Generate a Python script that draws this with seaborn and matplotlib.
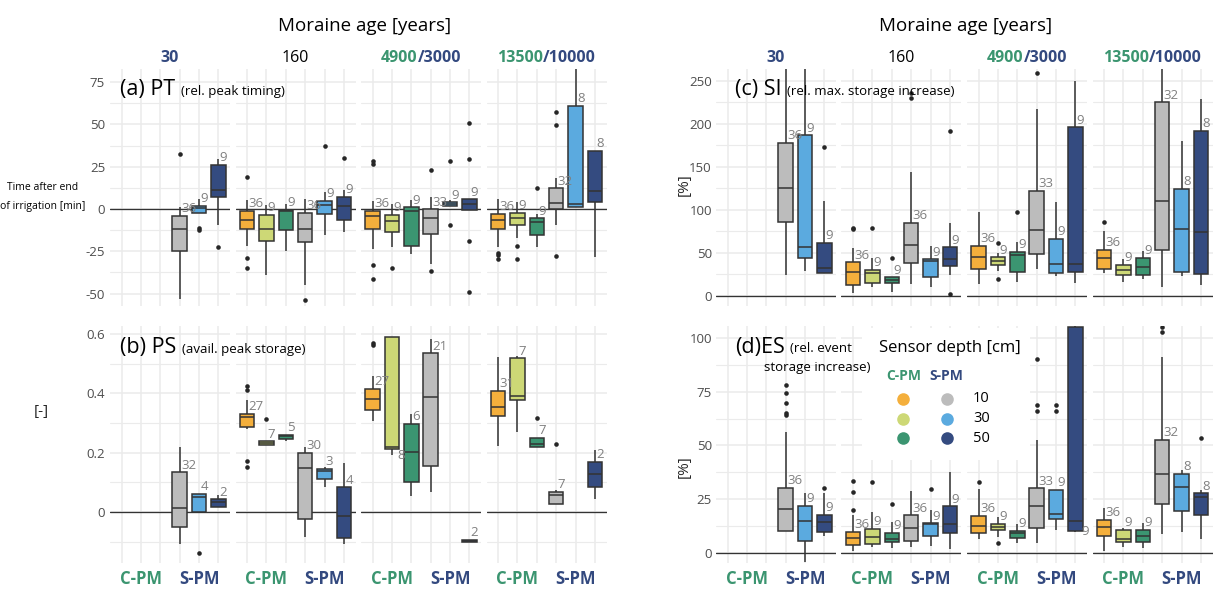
import numpy as np
import pandas as pd
import matplotlib
matplotlib.use("Agg")
import matplotlib.pyplot as plt
from matplotlib.ticker import MultipleLocator, FuncFormatter
from matplotlib.offsetbox import TextArea, HPacker, AnnotationBbox
import seaborn as sns

W, H = 1215, 589

AGES = ["30", "160", "4900/3000", "13500/10000"]
GROUPS = ["C10", "C30", "C50", "S10", "S30", "S50"]
DEPTHS = ["10", "30", "50"]
PALETTE = {"C10": "#f4af3c", "C30": "#cdd876", "C50": "#3b9571",
           "S10": "#bcbcbc", "S30": "#5baadf", "S50": "#344b80"}
GREEN = "#3b9570"
BLUE = "#33497f"

# (a) PT - relative peak timing [min]
# age, group, lower whisker, Q1, median, Q3, upper whisker, n
PT_BOXES = [
    ("30", "S10", -53.0, -24.8, -11.6, -3.9, 1.4, 36),
    ("30", "S30", -2.6, -2.6, 0.3, 2.0, 5.7, 9),
    ("30", "S50", -9.2, 6.9, 11.0, 26.2, 29.3, 9),
    ("160", "C10", -22.0, -11.8, -6.7, -1.2, 5.3, 36),
    ("160", "C30", -39.0, -18.7, -11.6, -3.3, 2.4, 9),
    ("160", "C50", -24.6, -12.6, -1.2, -0.6, 3.0, 9),
    ("160", "S10", -45.0, -19.7, -11.6, -2.2, 5.7, 36),
    ("160", "S30", -15.4, -3.2, 2.2, 4.9, 10.0, 9),
    ("160", "S50", -13.4, -6.5, 2.0, 7.3, 11.0, 9),
    ("4900/3000", "C10", -23.4, -12.0, -3.9, -1.0, 4.7, 36),
    ("4900/3000", "C30", -22.6, -13.8, -7.3, -3.3, 3.0, 9),
    ("4900/3000", "C50", -26.8, -21.7, -1.2, 1.0, 5.3, 9),
    ("4900/3000", "S10", -32.5, -14.6, -5.5, -0.2, 7.3, 33),
    ("4900/3000", "S30", 1.5, 1.8, 2.9, 4.0, 5.3, 9),
    ("4900/3000", "S50", -0.6, -0.6, 2.9, 5.7, 5.7, 9),
    ("13500/10000", "C10", -22.6, -11.8, -6.7, -3.0, 5.7, 36),
    ("13500/10000", "C30", -17.0, -9.5, -5.5, -2.2, 4.3, 9),
    ("13500/10000", "C50", -22.6, -15.4, -7.7, -5.5, -3.0, 9),
    ("13500/10000", "S10", -9.2, -0.1, 3.3, 12.2, 18.1, 32),
    ("13500/10000", "S30", 1.0, 1.0, 2.9, 61.0, 95.0, 8),
    ("13500/10000", "S50", -28.6, 4.3, 10.4, 34.4, 34.4, 8),
]
PT_OUTLIERS = [
    ("30", "S10", 32.3), ("30", "S30", -11.4), ("30", "S30", -12.4), ("30", "S50", -22.6),
    ("160", "C10", 19.0), ("160", "C10", -29.0), ("160", "C10", -35.0),
    ("160", "S10", -54.0), ("160", "S30", 37.4), ("160", "S50", 30.3),
    ("4900/3000", "C10", 28.5), ("4900/3000", "C10", 26.6), ("4900/3000", "C10", -32.9),
    ("4900/3000", "C10", -41.2), ("4900/3000", "C30", -34.8),
    ("4900/3000", "S10", 23.2), ("4900/3000", "S10", -36.8),
    ("4900/3000", "S30", 28.4), ("4900/3000", "S30", -9.2),
    ("4900/3000", "S50", 50.8), ("4900/3000", "S50", 29.3), ("4900/3000", "S50", -18.7),
    ("4900/3000", "S50", -49.2),
    ("13500/10000", "C10", -25.8), ("13500/10000", "C10", -27.0), ("13500/10000", "C10", -29.7),
    ("13500/10000", "C30", -21.7), ("13500/10000", "C30", -29.7), ("13500/10000", "C50", 12.2),
    ("13500/10000", "S10", 57.1), ("13500/10000", "S10", 49.8), ("13500/10000", "S10", -27.8),
]

# (b) PS - available peak storage [-]
PS_BOXES = [
    ("30", "S10", -0.108, -0.049, 0.012, 0.134, 0.218, 32),
    ("30", "S30", -0.001, -0.001, 0.052, 0.061, 0.061, 4),
    ("30", "S50", 0.018, 0.018, 0.033, 0.043, 0.057, 2),
    ("160", "C10", 0.280, 0.287, 0.320, 0.330, 0.378, 27),
    ("160", "C30", 0.227, 0.227, 0.233, 0.238, 0.238, 7),
    ("160", "C50", 0.240, 0.245, 0.255, 0.260, 0.260, 5),
    ("160", "S10", -0.085, -0.022, 0.147, 0.199, 0.220, 30),
    ("160", "S30", 0.083, 0.111, 0.139, 0.145, 0.150, 3),
    ("160", "S50", -0.108, -0.087, -0.012, 0.083, 0.164, 4),
    ("4900/3000", "C10", 0.306, 0.344, 0.380, 0.415, 0.459, 27),
    ("4900/3000", "C30", 0.192, 0.211, 0.219, 0.589, 0.590, 8),
    ("4900/3000", "C50", 0.054, 0.102, 0.201, 0.297, 0.329, 6),
    ("4900/3000", "S10", 0.069, 0.156, 0.386, 0.535, 0.582, 21),
    ("4900/3000", "S50", -0.100, -0.100, -0.097, -0.095, -0.095, 2),
    ("13500/10000", "C10", 0.224, 0.325, 0.353, 0.409, 0.522, 31),
    ("13500/10000", "C30", 0.269, 0.378, 0.391, 0.518, 0.527, 7),
    ("13500/10000", "C50", 0.218, 0.218, 0.229, 0.251, 0.251, 7),
    ("13500/10000", "S10", 0.026, 0.026, 0.057, 0.067, 0.075, 7),
    ("13500/10000", "S50", 0.043, 0.083, 0.128, 0.169, 0.210, 2),
]
PS_OUTLIERS = [
    ("30", "S30", -0.139),
    ("160", "C10", 0.425), ("160", "C10", 0.410), ("160", "C10", 0.172), ("160", "C10", 0.153),
    ("160", "C30", 0.314),
    ("4900/3000", "C10", 0.571), ("4900/3000", "C10", 0.562),
    ("13500/10000", "C50", 0.316), ("13500/10000", "S10", 0.229),
]

# (c) SI - relative maximum storage increase [%]
SI_BOXES = [
    ("30", "S10", 24.0, 85.7, 125.6, 177.6, 300.0, 36),
    ("30", "S30", 29.0, 43.8, 56.3, 186.5, 300.0, 9),
    ("30", "S50", 26.0, 26.0, 32.6, 61.3, 109.8, 9),
    ("160", "C10", 2.7, 12.4, 27.9, 38.8, 55.0, 36),
    ("160", "C30", 10.5, 15.1, 26.0, 29.9, 43.5, 9),
    ("160", "C50", 4.7, 14.4, 18.3, 21.4, 21.4, 9),
    ("160", "S10", 13.6, 37.7, 58.6, 84.9, 144.0, 36),
    ("160", "S30", 9.7, 22.1, 40.7, 42.3, 57.8, 9),
    ("160", "S50", 24.0, 34.9, 42.3, 56.3, 84.2, 9),
    ("4900/3000", "C10", 13.6, 31.0, 45.4, 58.2, 97.0, 36),
    ("4900/3000", "C30", 28.7, 35.7, 40.3, 44.6, 50.0, 9),
    ("4900/3000", "C50", 15.6, 27.9, 47.3, 51.2, 62.0, 9),
    ("4900/3000", "S10", 31.0, 48.1, 76.4, 121.7, 217.0, 33),
    ("4900/3000", "S30", 22.9, 26.0, 36.5, 66.3, 108.6, 9),
    ("4900/3000", "S50", 15.1, 27.6, 37.2, 195.8, 250.0, 9),
    ("13500/10000", "C10", 26.0, 31.4, 44.2, 53.1, 74.9, 36),
    ("13500/10000", "C30", 15.6, 23.7, 29.9, 36.1, 42.7, 9),
    ("13500/10000", "C50", 19.4, 23.7, 33.0, 44.2, 52.0, 9),
    ("13500/10000", "S10", 10.5, 53.5, 110.5, 224.9, 300.0, 32),
    ("13500/10000", "S30", 22.9, 27.6, 77.2, 124.0, 179.9, 8),
    ("13500/10000", "S50", 12.1, 25.2, 74.4, 191.9, 228.4, 8),
]
SI_OUTLIERS = [
    ("30", "S50", 172.5),
    ("160", "C10", 79.0), ("160", "C10", 77.5), ("160", "C30", 79.0), ("160", "C50", 43.5),
    ("160", "S10", 229.5), ("160", "S10", 236.0), ("160", "S50", 191.9), ("160", "S50", 2.0),
    ("4900/3000", "C30", 60.9), ("4900/3000", "C30", 19.4), ("4900/3000", "C50", 97.0),
    ("4900/3000", "S10", 258.6),
    ("13500/10000", "C10", 86.0),
]

# (d) ES - relative event storage increase [%]
ES_BOXES = [
    ("30", "S10", 10.5, 10.5, 20.7, 30.4, 56.4, 36),
    ("30", "S30", -3.9, 5.6, 15.0, 22.1, 28.1, 9),
    ("30", "S50", 8.0, 9.7, 14.4, 17.8, 28.0, 9),
    ("160", "C10", 1.1, 3.9, 7.2, 10.0, 17.8, 36),
    ("160", "C30", 3.1, 4.2, 7.7, 11.4, 19.2, 9),
    ("160", "C50", 2.3, 5.2, 6.6, 9.6, 14.4, 9),
    ("160", "S10", 2.8, 5.6, 11.6, 17.6, 29.0, 36),
    ("160", "S30", 3.5, 8.0, 13.5, 13.9, 20.1, 9),
    ("160", "S50", 2.0, 9.3, 13.4, 21.8, 37.5, 9),
    ("4900/3000", "C10", 6.5, 9.3, 12.7, 17.4, 29.7, 36),
    ("4900/3000", "C30", 7.7, 10.8, 12.3, 13.6, 16.7, 9),
    ("4900/3000", "C50", 4.9, 7.2, 9.3, 10.5, 13.4, 9),
    ("4900/3000", "S10", 4.9, 11.6, 21.9, 30.1, 52.5, 33),
    ("4900/3000", "S30", 10.8, 15.9, 18.2, 29.3, 29.3, 9),
    ("4900/3000", "S50", 10.0, 10.3, 15.1, 105.0, 130.0, 9),
    ("13500/10000", "C10", 1.2, 8.0, 12.1, 15.4, 20.9, 36),
    ("13500/10000", "C30", 3.1, 5.1, 6.6, 10.8, 11.9, 9),
    ("13500/10000", "C50", 2.3, 5.4, 8.0, 10.8, 14.2, 9),
    ("13500/10000", "S10", 8.8, 22.7, 36.8, 52.5, 90.9, 32),
    ("13500/10000", "S30", 9.7, 19.6, 30.9, 36.9, 38.6, 8),
    ("13500/10000", "S50", 6.6, 17.8, 26.2, 27.8, 29.3, 8),
]
ES_OUTLIERS = [
    ("30", "S10", 78.0), ("30", "S10", 74.2), ("30", "S10", 69.5), ("30", "S10", 65.2),
    ("30", "S10", 64.1), ("30", "S50", 30.1),
    ("160", "C10", 33.7), ("160", "C10", 28.3), ("160", "C10", 20.1), ("160", "C30", 32.9),
    ("160", "C50", 22.9), ("160", "S30", 29.8),
    ("4900/3000", "C10", 32.9), ("4900/3000", "C30", 4.6),
    ("4900/3000", "S10", 90.2), ("4900/3000", "S10", 68.8), ("4900/3000", "S10", 66.0),
    ("4900/3000", "S30", 68.8), ("4900/3000", "S30", 66.0),
    ("13500/10000", "S10", 102.5), ("13500/10000", "S10", 104.8),
    ("13500/10000", "S50", 53.6),
]

# ---------------------------------------------------------------- styling
sns.set_theme(style="white")
plt.rcParams["font.family"] = ["Open Sans", "DejaVu Sans"]
plt.rcParams["axes.unicode_minus"] = False

GRID = "#ebebeb"
LINE = "#333333"
TICK = "#4d4d4d"

fig = plt.figure(figsize=(W / 100, H / 100), dpi=100)
fig.patch.set_facecolor("white")


def px_rect(x0, y0, w, h):
    return [x0 / W, 1 - (y0 + h) / H, w / W, h / H]


FACET_W, FACET_STEP = 120, 125.5
ROW_TOP = {0: 69, 1: 326}
ROW_H = 237
COL_LEFT = {0: 110, 1: 716}

PANELS = [
    dict(boxes=PT_BOXES, out=PT_OUTLIERS, col=0, row=0, ylim=(-57.3, 82.7), major=25, minor=12.5),
    dict(boxes=PS_BOXES, out=PS_OUTLIERS, col=0, row=1, ylim=(-0.172, 0.627), major=0.2, minor=0.1),
    dict(boxes=SI_BOXES, out=SI_OUTLIERS, col=1, row=0, ylim=(-12.0, 263.6), major=50, minor=25),
    dict(boxes=ES_BOXES, out=ES_OUTLIERS, col=1, row=1, ylim=(-4.5, 105.4), major=25, minor=12.5),
]

fmt = FuncFormatter(lambda v, p: f"{v:g}")

for panel in PANELS:
    lo_lim, hi_lim = panel["ylim"]
    span = hi_lim - lo_lim
    for i, age in enumerate(AGES):
        x0 = COL_LEFT[panel["col"]] + i * FACET_STEP
        ax = fig.add_axes(px_rect(x0, ROW_TOP[panel["row"]], FACET_W, ROW_H))
        ax.set_facecolor("white")

        rows = [b for b in panel["boxes"] if b[0] == age]
        long = pd.DataFrame(
            [(b[1], v) for b in rows for v in b[2:7]], columns=["grp", "val"]
        )
        ax.axhline(0, color=LINE, lw=0.95, zorder=1.5)
        sns.boxplot(
            data=long, x="grp", y="val", hue="grp", order=GROUPS, hue_order=GROUPS,
            palette=PALETTE, saturation=1, width=0.75, whis=np.inf,
            linecolor=LINE, linewidth=1.1, showcaps=False, legend=False, ax=ax,
        )
        outs = pd.DataFrame(
            [(o[1], o[2]) for o in panel["out"] if o[0] == age], columns=["grp", "val"]
        )
        if len(outs):
            sns.stripplot(
                data=outs, x="grp", y="val", order=GROUPS, jitter=False,
                color="#262626", size=3.3, linewidth=0, ax=ax, zorder=4,
            )

        # sample size next to each box
        for b in rows:
            pos = GROUPS.index(b[1])
            lo, q3, n = b[2], b[5], b[7]
            if q3 > hi_lim - 0.1 * span:
                ax.annotate(str(n), xy=(pos, lo), xytext=(4, 0), textcoords="offset points",
                            ha="left", va="center", color="#808080", fontsize=9.5, zorder=5)
            else:
                ax.annotate(str(n), xy=(pos, q3), xytext=(1, 0.5), textcoords="offset points",
                            ha="left", va="bottom", color="#808080", fontsize=9.5, zorder=5)

        ax.set_xlim(-0.6, 5.6)
        ax.set_ylim(lo_lim, hi_lim)
        ax.set_xlabel("")
        ax.set_ylabel("")
        ax.set_xticks(range(len(GROUPS)))
        ax.yaxis.set_major_locator(MultipleLocator(panel["major"]))
        ax.yaxis.set_minor_locator(MultipleLocator(panel["minor"]))
        ax.yaxis.set_major_formatter(fmt)
        ax.set_axisbelow(True)
        ax.grid(True, which="major", axis="both", color=GRID, lw=1.1)
        ax.grid(True, which="minor", axis="y", color=GRID, lw=0.8)
        for s in ax.spines.values():
            s.set_visible(False)
        ax.tick_params(axis="both", which="both", length=0, labelsize=9.5, colors=TICK)
        ax.tick_params(axis="x", pad=5)
        ax.tick_params(axis="y", pad=3.5 if panel["col"] == 0 else 3)
        if panel["row"] == 1:
            ax.set_xticklabels(["", "C-PM", "", "", "S-PM", ""], fontweight="bold", fontsize=12)
            labels = ax.get_xticklabels()
            labels[1].set_color(GREEN)
            labels[4].set_color(BLUE)
        else:
            ax.set_xticklabels([""] * len(GROUPS))
        if i > 0:
            ax.tick_params(labelleft=False)


def colored_text(parts, x, y, size, align=(0.5, 0.5), sep=0):
    areas = [TextArea(s, textprops=dict(color=c, fontsize=sz if sz else size, fontweight=w))
             for s, c, w, sz in parts]
    box = HPacker(children=areas, align="baseline", pad=0, sep=sep)
    ab = AnnotationBbox(box, (x, H - y), xycoords="figure pixels", box_alignment=align,
                        frameon=False, pad=0, zorder=6, annotation_clip=False)
    fig.add_artist(ab)


# legend with sensor depths
leg = fig.add_axes(px_rect(862, 328, 168, 132))
leg.set_zorder(1)
leg.set_facecolor("white")
leg.set_xlim(862, 1030)
leg.set_ylim(460, 328)
leg.set_xticks([])
leg.set_yticks([])
for s in leg.spines.values():
    s.set_visible(False)
leg.text(879, 348, "Sensor depth [cm]", ha="left", va="center", fontsize=12, color="black")
leg.text(903.5, 376, "C-PM", ha="center", va="center", fontsize=10, fontweight="bold", color=GREEN)
leg.text(946.5, 376, "S-PM", ha="center", va="center", fontsize=10, fontweight="bold", color=BLUE)
for k, d in enumerate(DEPTHS):
    yy = 399 + k * 19.5
    leg.scatter([903], [yy], s=82, color=PALETTE["C" + d], linewidths=0)
    leg.scatter([947], [yy], s=82, color=PALETTE["S" + d], linewidths=0)
    leg.text(973, yy, d, ha="left", va="center", fontsize=10.5, color="black")

# headers
for col, cx in ((0, 365), (1, 966)):
    fig.text(cx / W, 1 - 26 / H, "Moraine age [years]", ha="center", va="center",
             fontsize=13.5, color="black")
    for i, age in enumerate(AGES):
        fx = COL_LEFT[col] + i * FACET_STEP + FACET_W / 2
        if "/" in age:
            a, b = age.split("/")
            parts = [(a, GREEN, "bold", None), ("/" + b, BLUE, "bold", None)]
        elif age == "30":
            parts = [(age, BLUE, "bold", None)]
        else:
            parts = [(age, "black", "normal", None)]
        colored_text(parts, fx, 58, 11.5)

# panel titles
colored_text([("(a) PT", "black", "normal", 15.5), ("(rel. peak timing)", "black", "normal", 9.5)],
             120, 89, 15, align=(0, 0.5), sep=4)
colored_text([("(b) PS", "black", "normal", 15.5), ("(avail. peak storage)", "black", "normal", 9.5)],
             120, 347, 15, align=(0, 0.5), sep=4)
colored_text([("(c) SI", "black", "normal", 15.5), ("(rel. max. storage increase)", "black", "normal", 9.5)],
             735, 90, 15, align=(0, 0.5), sep=4)
colored_text([("(d)ES", "black", "normal", 15.5), ("(rel. event", "black", "normal", 9.5)],
             735, 347, 15, align=(0, 0.5), sep=4)
fig.text(817 / W, 1 - 367 / H, "storage increase)", ha="center", va="center", fontsize=9.5,
         color="black", zorder=6)

# axis titles
fig.text(43 / W, 1 - 197 / H, "Time after end\nof irrigation [min]", ha="center", va="center",
         fontsize=7.5, linespacing=1.9, color="black")
fig.text(41 / W, 1 - 412 / H, "[-]", ha="center", va="center", fontsize=11)
fig.text(684 / W, 1 - 185 / H, "[%]", ha="center", va="center", rotation=90, fontsize=11)
fig.text(684 / W, 1 - 467 / H, "[%]", ha="center", va="center", rotation=90, fontsize=11)

fig.savefig("out.png", dpi=100, facecolor="white")
